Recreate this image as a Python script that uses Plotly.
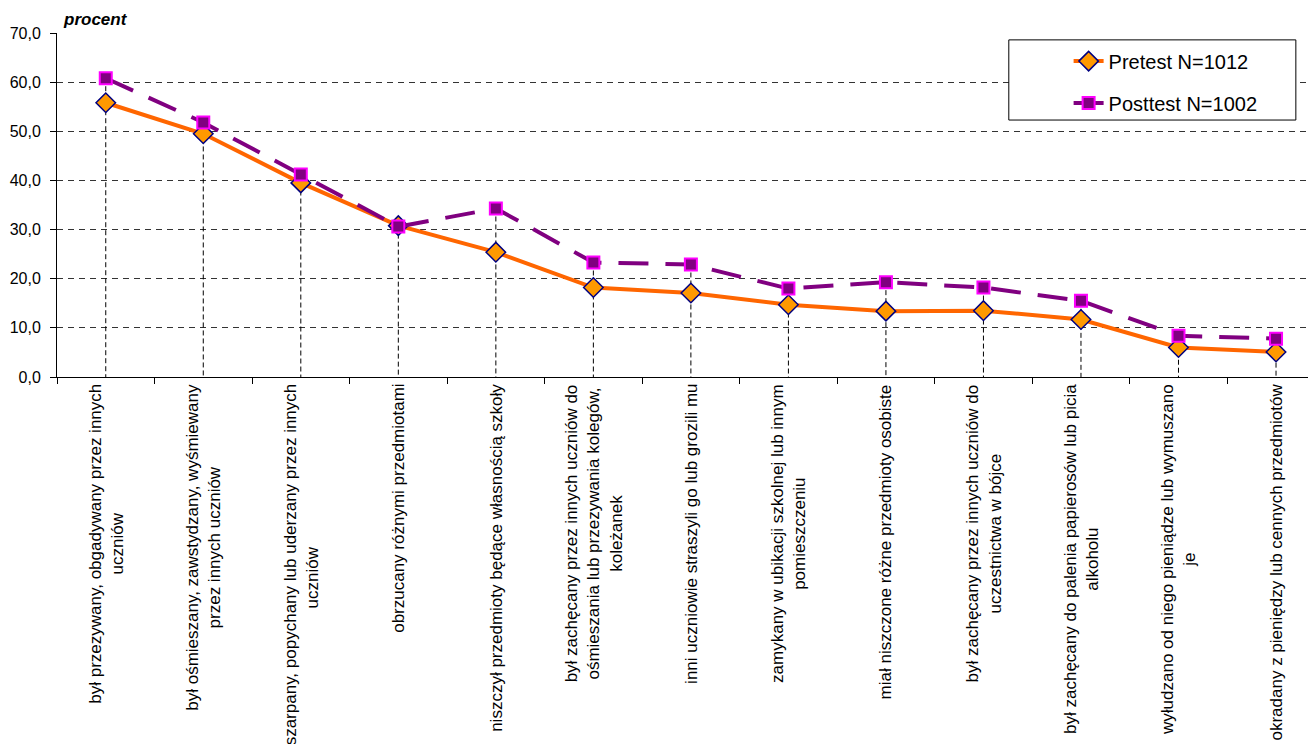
import plotly.graph_objects as go

categories = [
    "był przezywany, obgadywany przez innych<br>uczniów",
    "był ośmieszany, zawstydzany, wyśmiewany<br>przez innych uczniów",
    "był szarpany, popychany lub uderzany przez innych<br>uczniów",
    "obrzucany różnymi przedmiotami",
    "niszczył przedmioty będące własnością szkoły",
    "był zachęcany przez innych uczniów do<br>ośmieszania lub przezywania kolegów,<br>koleżanek",
    "inni uczniowie straszyli go lub grozili mu",
    "zamykany w ubikacji szkolnej lub innym<br>pomieszczeniu",
    "miał niszczone różne przedmioty osobiste",
    "był zachęcany przez innych uczniów do<br>uczestnictwa w bójce",
    "był zachęcany do palenia papierosów lub picia<br>alkoholu",
    "wyłudzano od niego pieniądze lub wymuszano<br>je",
    "okradany z pieniędzy lub cennych przedmiotów",
]
pretest = [55.8, 49.5, 39.5, 30.8, 25.4, 18.2, 17.1, 14.7, 13.4, 13.5, 11.7, 6.0, 5.1]
posttest = [60.8, 51.8, 41.2, 30.6, 34.3, 23.3, 22.9, 18.0, 19.3, 18.2, 15.5, 8.4, 7.8]
series_names = ["Pretest N=1012", "Posttest N=1002"]
y_title = "procent"

FONT = "Liberation Sans, Arial, sans-serif"
cat_ids = list(range(len(categories)))

fig = go.Figure()

# drop lines from the higher point down to the axis
dx, dy = [], []
for i, (a, b) in enumerate(zip(pretest, posttest)):
    dx += [i, i, None]
    dy += [max(a, b), 0, None]
fig.add_trace(go.Scatter(
    x=dx, y=dy, mode="lines", showlegend=False, hoverinfo="skip",
    line=dict(color="black", width=1, dash="5px,3px"),
))

fig.add_trace(go.Scatter(
    x=cat_ids, y=pretest, name=series_names[0], mode="lines+markers",
    legendgroup="a",
    line=dict(color="#FF6600", width=4),
    marker=dict(symbol="diamond", size=15, color="#FF9900",
                line=dict(color="#000080", width=1.5)),
))
fig.add_trace(go.Scatter(
    x=cat_ids, y=posttest, name=series_names[1], mode="lines+markers",
    legendgroup="b",
    line=dict(color="#800080", width=4, dash="30px,17px"),
    marker=dict(symbol="square", size=12, color="#800080",
                line=dict(color="#FF00FF", width=2)),
))

annotations = []
for i, lab in enumerate(categories):
    annotations.append(dict(
        x=i, y=0, xref="x", yref="paper", text=lab, showarrow=False,
        textangle=-90, xanchor="center", yanchor="top", yshift=-5,
        align="center", font=dict(family=FONT, size=17, color="black"),
    ))
annotations.append(dict(
    x=0.003, y=1.04, xref="paper", yref="paper", text="<b><i>" + y_title + "</i></b>",
    showarrow=False, xanchor="left", yanchor="middle",
    font=dict(family=FONT, size=17, color="black"),
))

fig.update_layout(
    width=1308, height=736,
    margin=dict(l=49, r=0, t=25, b=367, autoexpand=False),
    paper_bgcolor="white", plot_bgcolor="white",
    separators=",.",
    font=dict(family=FONT, size=16, color="black"),
    annotations=annotations,
    legend=dict(
        x=0.8035, y=0.975, xanchor="left", yanchor="top",
        bgcolor="rgba(0,0,0,0)", font=dict(family=FONT, size=20, color="black"),
        tracegroupgap=13,
    ),
    shapes=[dict(
        type="rect", xref="paper", yref="paper",
        x0=0.756, x1=0.984, y0=0.747, y1=0.980,
        line=dict(color="black", width=1), fillcolor="white", layer="above",
    )],
    xaxis=dict(
        type="linear", range=[-0.5, 12.41], showticklabels=False,
        tickmode="array", tickvals=[i - 0.5 for i in range(len(categories) + 1)],
        ticks="outside", ticklen=6, tickcolor="black",
        showgrid=False, zeroline=False,
        showline=True, linecolor="black", linewidth=1,
    ),
    yaxis=dict(
        range=[0, 70], dtick=10, tick0=0, tickformat=".1f",
        ticks="outside", ticklen=6, tickcolor="black", ticklabelstandoff=6,
        showgrid=True, gridcolor="#333333", gridwidth=1, griddash="6px,5px",
        zeroline=False, showline=True, linecolor="black", linewidth=1,
        tickfont=dict(family=FONT, size=16, color="black"),
    ),
)

fig.write_html("out.html")
